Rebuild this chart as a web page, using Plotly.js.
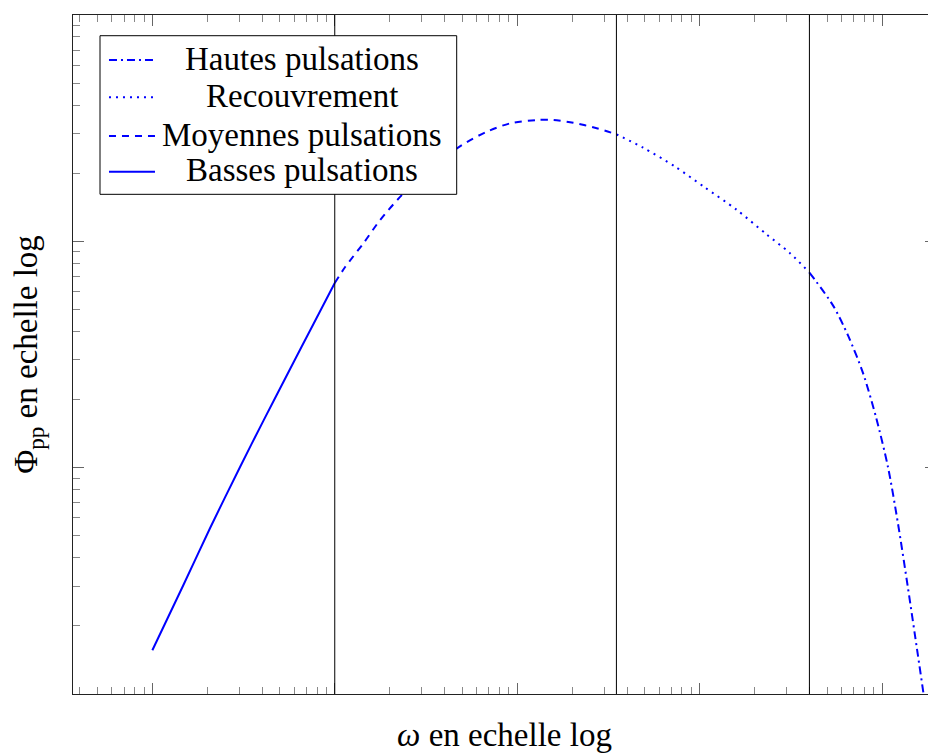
<!DOCTYPE html>
<html>
<head>
<meta charset="utf-8">
<script src="https://cdn.plot.ly/plotly-3.0.1.min.js"></script>
<style>
html, body { margin: 0; padding: 0; overflow: hidden; background: #fff; }
#chart { width: 936px; height: 753px; }
</style>
</head>
<body>
<div id="chart"></div>
<script>
// Basses pulsations (solid)
const bassesX = [1, 1.48, 2.07, 3.03, 4.06, 5.69, 7.63, 10];
const bassesY = [1.56, 3.03, 5.40, 10.1, 16.1, 27.3, 43.0, 65.4];
// Moyennes pulsations (dashed)
const moyennesX = [10, 11.4, 14.35, 17.7, 23.3, 33.7, 49.7, 68.1, 91.4, 128, 158, 203, 273, 350];
const moyennesY = [65.4, 77.0, 98, 124, 160, 211, 266, 305, 332, 343.6, 343.6, 334, 316, 297];
// Recouvrement (dotted)
const recouvX = [350, 492, 733, 1069, 1593, 2327, 3120, 4000];
const recouvY = [297, 259, 214, 173, 138, 107.4, 88.9, 72.8];
// Hautes pulsations (dash-dot)
const hautesX = [4000, 5395, 6520, 7880, 9310, 10790, 12240, 13870, 15740, 16900];
const hautesY = [72.8, 52.0, 38.3, 26.1, 16.5, 10.04, 5.65, 2.95, 1.48, 1.0];
// boundaries between zones (vertical lines)
const boundaries = [10, 350, 4000];
// legend labels (top to bottom)
const legendLabels = ["Hautes pulsations", "Recouvrement", "Moyennes pulsations", "Basses pulsations"];
const xTitle = "<i>ω</i> en echelle log";
const yTitle = "Φ<sub>pp</sub> en echelle log";

const blue = "#0000ff";
const dashes = {
  solid: "solid",
  dashed: "7px,6px",
  dotted: "2px,5px",
  dashdot: "8px,4px,2px,4px"
};
const legendDashes = [dashes.dashdot, dashes.dotted, dashes.dashed, dashes.solid];

function seg(x, y, name, dash) {
  return { x: x, y: y, name: name, type: "scatter", mode: "lines",
    line: { color: blue, width: 2, dash: dash, shape: "spline", smoothing: 0.8 },
    showlegend: false, hoverinfo: "skip" };
}
const traces = [
  seg(bassesX, bassesY, legendLabels[3], dashes.solid),
  seg(moyennesX, moyennesY, legendLabels[2], dashes.dashed),
  seg(recouvX, recouvY, legendLabels[1], dashes.dotted),
  seg(hautesX, hautesY, legendLabels[0], dashes.dashdot)
];

function minorVals(decades) {
  const v = [];
  decades.forEach(d => { for (let k = 2; k <= 9; k++) v.push(d * k); });
  return v;
}
const xMajor = [1, 10, 100, 1000, 10000];
const yMajor = [10, 100];
const xMinor = minorVals([0.1, 1, 10, 100, 1000, 10000]);
const yMinor = minorVals([1, 10, 100]);

const font = "'Liberation Serif', 'Times New Roman', serif";
const fs = 33;

const shapes = boundaries.map(b => ({
  type: "line", xref: "x", yref: "paper",
  x0: b, x1: b, y0: 0, y1: 1,
  line: { color: "#000", width: 1 }, layer: "above"
}));
// legend box
shapes.push({ type: "rect", xref: "paper", yref: "paper",
  x0: 0.0313, x1: 0.4446, y0: 0.7359, y1: 0.9695,
  fillcolor: "#fff", line: { color: "#000", width: 1 }, layer: "above" });
const rowY = [0.9337, 0.8788, 0.8218, 0.7692];
const annotations = [];
legendLabels.forEach((lab, i) => {
  shapes.push({ type: "line", xref: "paper", yref: "paper",
    x0: 0.0417, x1: 0.0950, y0: rowY[i], y1: rowY[i],
    line: { color: blue, width: 2, dash: legendDashes[i] }, layer: "above" });
  annotations.push({ xref: "paper", yref: "paper", x: 0.2654, y: rowY[i] + 0.002,
    text: lab, showarrow: false, xanchor: "center", yanchor: "middle",
    font: { family: font, size: fs, color: "#000" } });
});

const axisCommon = {
  type: "log", showgrid: false, zeroline: false, showticklabels: false,
  showline: true, linecolor: "#222", linewidth: 1, mirror: "ticks",
  ticks: "inside", ticklen: 11, tickwidth: 1, tickcolor: "#666", tickmode: "array"
};

const layout = {
  width: 936, height: 753,
  margin: { l: 73, r: 0, t: 15, b: 59, pad: 0 },
  paper_bgcolor: "#fff", plot_bgcolor: "#fff",
  showlegend: false,
  xaxis: Object.assign({}, axisCommon, {
    range: [-0.435, 4.296], tickvals: xMajor,
    minor: { ticks: "inside", ticklen: 7, tickwidth: 1, tickcolor: "#888", tickmode: "array", tickvals: xMinor, showgrid: false },
    title: { text: xTitle, font: { family: font, size: fs, color: "#000" }, standoff: 31 }
  }),
  yaxis: Object.assign({}, axisCommon, {
    range: [0, 3], tickvals: yMajor,
    minor: { ticks: "inside", ticklen: 7, tickwidth: 1, tickcolor: "#888", tickmode: "array", tickvals: yMinor, showgrid: false },
    title: { text: yTitle, font: { family: font, size: fs, color: "#000" }, standoff: 24 }
  }),
  shapes: shapes,
  annotations: annotations
};

Plotly.newPlot("chart", traces, layout, { displayModeBar: false, staticPlot: true });
</script>
</body>
</html>
